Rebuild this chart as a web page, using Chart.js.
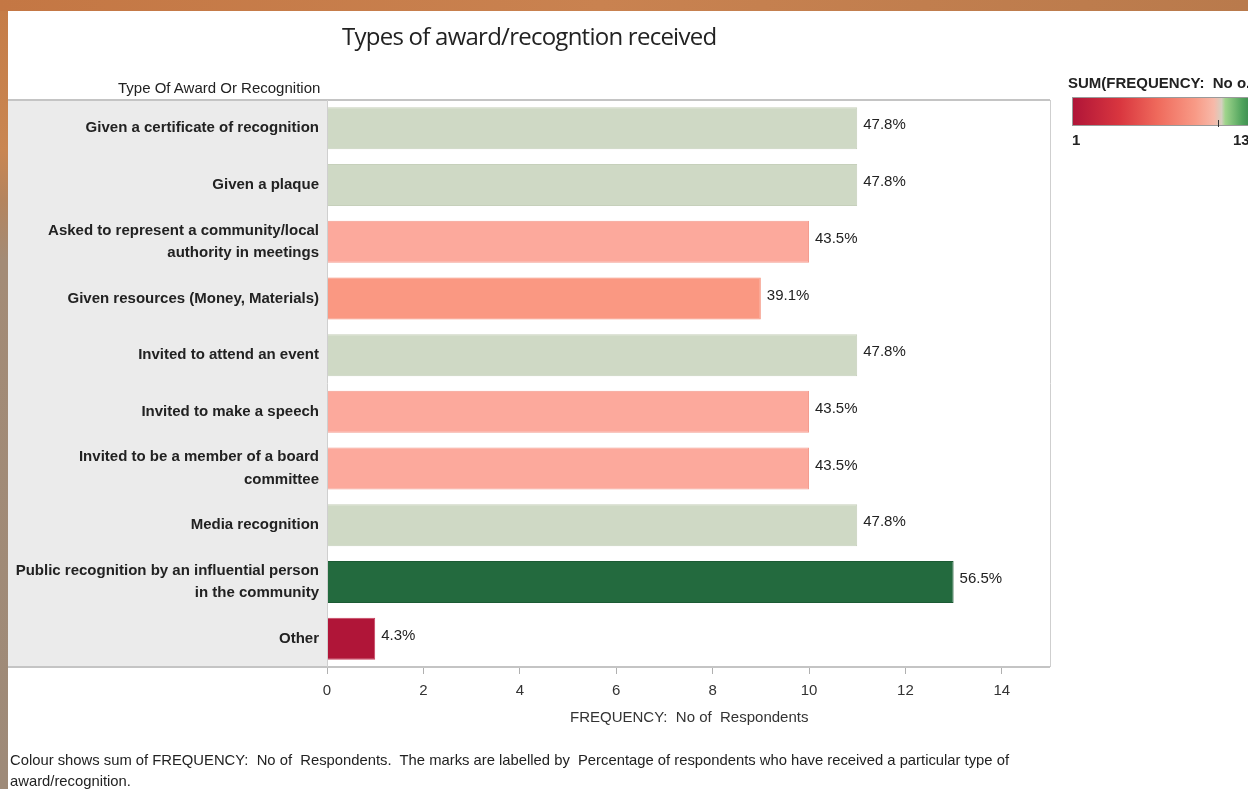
<!DOCTYPE html>
<html>
<head>
<meta charset="utf-8">
<script src="https://cdn.jsdelivr.net/npm/chart.js@4/dist/chart.umd.min.js"></script>
<style>
  html, body { margin: 0; padding: 0; }
  body {
    width: 1248px; height: 789px; overflow: hidden; position: relative;
    background: linear-gradient(180deg, #c57c47 0px, #c98652 150px, #b4845e 200px, #a38b76 260px, #9e8a78 789px);
    font-family: 'Liberation Sans Narrow', 'Arial Narrow', 'Liberation Sans', sans-serif;
  }
  #topband {
    position: absolute; left: 0; top: 0; width: 1248px; height: 11px;
    background: linear-gradient(90deg, #c47744 0px, #c98250 600px, #b97a4c 1248px);
  }
  #panel { position: absolute; left: 8px; top: 11px; width: 1240px; height: 778px; background: #ffffff; }
  #c { position: absolute; left: 0; top: 0; }
  .txt { position: absolute; white-space: nowrap; color: #222; }
  #title { left: 342px; top: 19px; font-family: 'Open Sans', 'Noto Sans', sans-serif; font-size: 24px; color: #222; letter-spacing: -0.75px; }
  #rowhdr { left: 118px; top: 79px; font-size: 15px; color: #222; }
  #xtitle { left: 570px; top: 708px; font-size: 15px; color: #333; }
  #foot { left: 10px; top: 750px; font-size: 14.8px; line-height: 21px; color: #222; }
  #legtitle { left: 1068px; top: 74px; font-size: 15px; font-weight: bold; color: #222; }
  #legbar {
    position: absolute; left: 1072px; top: 97px; width: 190px; height: 29px;
    border: 1px solid #9a9a9a; box-sizing: border-box;
    background: linear-gradient(90deg, #b01538 0%, #d9363f 25%, #ef6a5c 45%, #f89a86 65%, #f7b9a9 75%, #d6cfc0 79%, #9fd48c 81%, #4fa35c 90%, #226b3e 100%);
  }
  #legtick { position: absolute; left: 1218px; top: 120px; width: 1px; height: 7px; background: #333; }
  #leg1 { left: 1072px; top: 131px; font-size: 15px; font-weight: bold; }
  #leg13 { left: 1233px; top: 131px; font-size: 15px; font-weight: bold; }
</style>
</head>
<body>
<div id="topband"></div>
<div id="panel"></div>
<canvas id="c" width="1248" height="789"></canvas>
<div class="txt" id="title">Types of award/recogntion received</div>
<div class="txt" id="rowhdr">Type Of Award Or Recognition</div>
<div class="txt" id="xtitle">FREQUENCY:&nbsp; No of&nbsp; Respondents</div>
<div class="txt" id="foot">Colour shows sum of FREQUENCY:&nbsp; No of&nbsp; Respondents.&nbsp; The marks are labelled by&nbsp; Percentage of respondents who have received a particular type of<br>award/recognition.</div>
<div class="txt" id="legtitle">SUM(FREQUENCY:&nbsp; No o.</div>
<div id="legbar"></div>
<div id="legtick"></div>
<div class="txt" id="leg1">1</div>
<div class="txt" id="leg13">13</div>
<script>
const categories = [
  ["Given a certificate of recognition"],
  ["Given a plaque"],
  ["Asked to represent a community/local", "authority in meetings"],
  ["Given resources (Money, Materials)"],
  ["Invited to attend an event"],
  ["Invited to make a speech"],
  ["Invited to be a member of a board", "committee"],
  ["Media recognition"],
  ["Public recognition by an influential person", "in the community"],
  ["Other"]
];
const frequency = [11, 11, 10, 9, 11, 10, 10, 11, 13, 1];
const percentLabels = ["47.8%", "47.8%", "43.5%", "39.1%", "47.8%", "43.5%", "43.5%", "47.8%", "56.5%", "4.3%"];
const xTicks = [0, 2, 4, 6, 8, 10, 12, 14];

// colour scale (diverging, as in the legend)
const colourByValue = { 1: "#b01538", 9: "#fa9882", 10: "#fca99c", 11: "#cfd9c5", 13: "#236a3e" };
const borderByValue = { 1: "#c8405e", 9: "#f58a73", 10: "#f49d8f", 11: "#c6d0bb", 13: "#1c5a34" };

const FONT = "'Liberation Sans Narrow', 'Arial Narrow', 'Liberation Sans', sans-serif";
const PANE_LEFT = 8;

const framePlugin = {
  id: 'frame',
  beforeDraw(chart) {
    const { ctx, chartArea: a } = chart;
    ctx.save();
    ctx.fillStyle = '#ebebeb';
    ctx.fillRect(PANE_LEFT, a.top, a.left - PANE_LEFT, a.bottom - a.top);
    ctx.restore();
  },
  afterDraw(chart) {
    const { ctx, chartArea: a } = chart;
    ctx.save();
    ctx.strokeStyle = '#c4c4c4';
    ctx.lineWidth = 2;
    ctx.beginPath();
    ctx.moveTo(PANE_LEFT, a.top); ctx.lineTo(a.right, a.top);
    ctx.moveTo(PANE_LEFT, a.bottom); ctx.lineTo(a.right, a.bottom);
    ctx.stroke();
    ctx.lineWidth = 1;
    ctx.strokeStyle = '#cfcfcf';
    ctx.beginPath();
    ctx.moveTo(a.right + 0.5, a.top); ctx.lineTo(a.right + 0.5, a.bottom);
    ctx.moveTo(a.left + 0.5, a.top); ctx.lineTo(a.left + 0.5, a.bottom);
    ctx.stroke();
    ctx.restore();
  },
  afterDatasetsDraw(chart) {
    const { ctx } = chart;
    const meta = chart.getDatasetMeta(0);
    ctx.save();
    ctx.font = "15px " + FONT;
    ctx.fillStyle = '#222';
    ctx.textAlign = 'left';
    ctx.textBaseline = 'middle';
    meta.data.forEach((bar, i) => {
      ctx.fillText(percentLabels[i], bar.x + 6, bar.y - 3);
    });
    ctx.restore();
  }
};

new Chart(document.getElementById('c'), {
  type: 'bar',
  data: {
    labels: categories,
    datasets: [{
      data: frequency,
      backgroundColor: frequency.map(v => colourByValue[v]),
      borderColor: frequency.map(v => borderByValue[v]),
      borderWidth: 1,
      categoryPercentage: 1,
      barPercentage: 0.74
    }]
  },
  options: {
    indexAxis: 'y',
    responsive: false,
    animation: false,
    events: [],
    layout: { padding: { left: PANE_LEFT, top: 100, right: 198, bottom: 0 } },
    plugins: { legend: { display: false }, title: { display: false }, tooltip: { enabled: false } },
    scales: {
      x: {
        min: 0, max: 15,
        afterFit(scale) { scale.height = 122; },
        afterBuildTicks(scale) { scale.ticks = xTicks.map(v => ({ value: v })); },
        grid: { drawOnChartArea: false, drawTicks: true, tickLength: 7, color: '#b0b0b0' },
        border: { display: false },
        ticks: { padding: 8, color: '#333', font: { family: FONT, size: 15 }, maxRotation: 0 }
      },
      y: {
        afterFit(scale) { scale.width = 327 - PANE_LEFT; },
        grid: { display: false },
        border: { display: false },
        ticks: { padding: 0, color: '#222', font: { family: FONT, size: 15, weight: 'bold', lineHeight: 1.5 } }
      }
    }
  },
  plugins: [framePlugin]
});
</script>
</body>
</html>
